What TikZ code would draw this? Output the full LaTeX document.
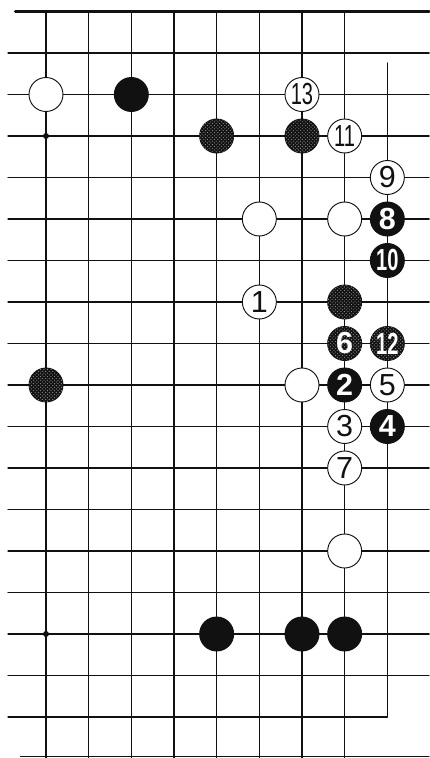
\documentclass[tikz,border=0pt]{standalone}
\usepackage{fontspec}
\setmainfont{Liberation Sans}
\usepackage{graphicx}
\usetikzlibrary{patterns}
\definecolor{BoardInk}{HTML}{111111}
\definecolor{SpeckleGrey}{HTML}{9A9A9A}
\newcommand{\narrow}[1]{\scalebox{0.66}[1]{#1}}

\begin{document}
\begin{tikzpicture}[x={(12.8mm,0)},y={(0,-12.45mm)},line cap=round,
  gridline/.style={BoardInk,line width=1pt},
  stone/.style={circle,draw=BoardInk,line width=0.8pt,minimum size=10.2mm,inner sep=0pt,font=\fontsize{26}{26}\selectfont},
  whitestone/.style={stone,fill=white,text=BoardInk},
  blackstone/.style={stone,fill=BoardInk,text=white,font=\fontsize{26}{26}\selectfont\bfseries},
  mottled/.style={blackstone,postaction={pattern=crosshatch dots,pattern color=SpeckleGrey}}]
  \useasboundingbox (-1.078,-0.277) rectangle (8.978,17.988);
  \foreach \c in {0,...,7} \draw[gridline] (\c,0)--(\c,18);
  \draw[gridline] (8,1.24)--(8,17);
  \foreach \r in {1,...,16} \draw[gridline] (-0.89,\r)--(8.98,\r);
  \draw[gridline] (-0.89,17)--(8,17);\draw[gridline] (-0.6,17.96)--(8.98,17.96);
  \draw[BoardInk,line width=2.6pt] (-0.72,0)--(8.98,0);
  \fill[BoardInk] (0,3) circle (0.9mm);\fill[BoardInk] (0,15) circle (0.9mm);
  \node[whitestone] (wa) at (0,2) {};\node[blackstone] (ba) at (2,2) {};\node[whitestone] (w13) at (6,2) {\narrow{13}};
  \node[mottled] (ma) at (4,3) {};\node[mottled] (mb) at (6,3) {};\node[whitestone] (w11) at (7,3) {\narrow{11}};
  \node[whitestone] (w9) at (8,4) {9};
  \node[whitestone] (wb) at (5,5) {};\node[whitestone] (wc) at (7,5) {};\node[blackstone] (b8) at (8,5) {8};
  \node[blackstone] (b10) at (8,6) {\narrow{10}};
  \node[whitestone] (w1) at (5,7) {1};\node[mottled] (mc) at (7,7) {};
  \node[mottled] (b6) at (7,8) {6};\node[mottled] (b12) at (8,8) {\narrow{12}};
  \node[mottled] (md) at (0,9) {};\node[whitestone] (wd) at (6,9) {};\node[blackstone] (b2) at (7,9) {2};\node[whitestone] (w5) at (8,9) {5};
  \node[whitestone] (w3) at (7,10) {3};\node[blackstone] (b4) at (8,10) {4};
  \node[whitestone] (w7) at (7,11) {7};
  \node[whitestone] (we) at (7,13) {};
  \node[blackstone] (bb) at (4,15) {};\node[blackstone] (bc) at (6,15) {};\node[blackstone] (bd) at (7,15) {};
\end{tikzpicture}
\end{document}
